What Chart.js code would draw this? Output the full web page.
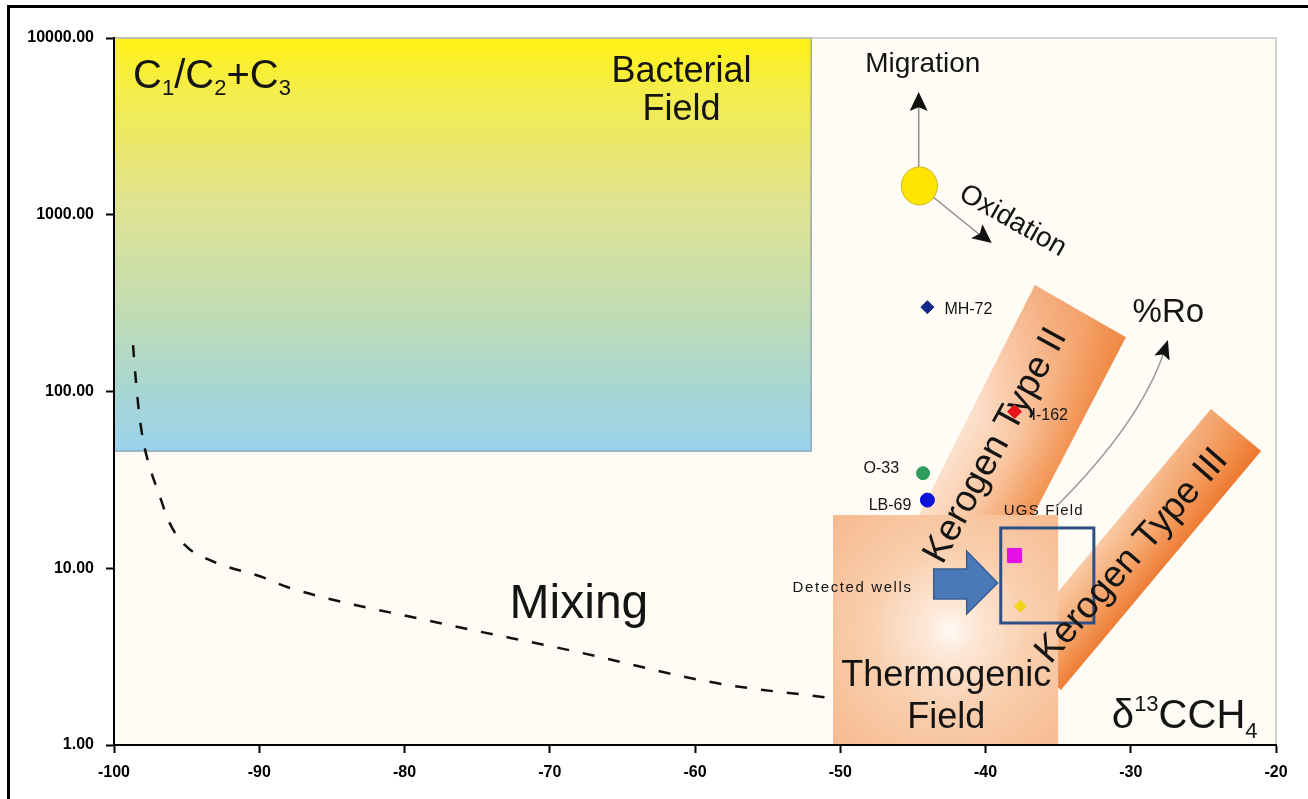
<!DOCTYPE html>
<html>
<head>
<meta charset="utf-8">
<title>Bernard diagram</title>
<script src="https://cdn.jsdelivr.net/npm/chart.js@4.4.1/dist/chart.umd.min.js"></script>
<style>
  html, body { margin: 0; padding: 0; background: #fff; overflow: hidden; }
  #wrap { position: relative; width: 1308px; height: 799px; }
  #frame { position: absolute; left: 7px; top: 5px; width: 1320px; height: 820px;
           border-top: 3px solid #000; border-left: 3px solid #000; pointer-events: none; }
  canvas { display: block; }
</style>
</head>
<body>
<div id="wrap">
  <canvas id="chart" width="1308" height="799"></canvas>
  <div id="frame"></div>
</div>
<script>
// δ13C of methane (‰) against C1/(C2+C3), log scale

const yTickValues = [1, 10, 100, 1000, 10000];

// labelled wells
const wellNames = ['MH-72', 'I-162', 'O-33', 'LB-69'];
const wellD13C = [-44, -38, -44.3, -44];
const wellRatio = [300, 77, 34.5, 24.3];

// detected wells in the UGS field
const detectedD13C = [-38, -37.6];
const detectedRatio = [11.8, 6.1];

// mixing trend between bacterial and thermogenic end members
const mixingD13C = [-98.69, -98.48, -98.28, -98.0, -97.52, -96.9, -96.21, -95.11, -93.39, -89.6, -88.08, -78.23, -68.37, -58.52, -50.53];
const mixingRatio = [183, 112, 76.6, 53.2, 36.9, 26.3, 18.3, 13.5, 11.1, 8.8, 7.83, 5.03, 3.4, 2.24, 1.84];

// genetic fields
const bacterialD13C = [-100, -52];
const bacterialRatio = [46, 10000];
const thermogenicD13C = [-50.5, -35];
const thermogenicRatio = [1, 20];

// kerogen maturity bands, corners: lower-left, upper-left, upper-right, lower-right
const kerogenIID13C = [-46.46, -36.6, -30.34, -40.47];
const kerogenIIRatio = [9.9, 400, 203, 5.1];
const kerogenIIID13C = [-38.26, -24.48, -21.03, -34.81];
const kerogenIIIRatio = [3.54, 79.6, 46.1, 2.05];

// UGS field window
const ugsD13C = [-38.95, -32.54];
const ugsRatio = [4.9, 16.9];

// source point of the migration / oxidation vectors and their ends
const sourceD13C = [-44.55];
const sourceRatio = [1455];
const migrationEnd = { x: -44.6, y: 4950 };
const oxidationEnd = { x: -39.57, y: 692 };
// maturity (%Ro) trend: start, bend, end
const roD13C = [-35.16, -29.3, -27.44];
const roRatio = [22.2, 67.2, 195.6];

// drawing styles
const wellStyle = {
  pointStyle: ['rectRot', 'rectRot', 'circle', 'circle'],
  color: ['#14288c', '#e8141c', '#2e9b5c', '#0a12d8'],
  radius: [6.5, 7, 6.5, 7],
  labelDx: [17, 17, -24, -16],
  labelDy: [7, 8, 0, 10],
  labelAlign: ['left', 'left', 'right', 'right']
};
const detectedStyle = {
  pointStyle: ['rect', 'rectRot'],
  color: ['#e60fe6', '#f2d21a'],
  radius: [10, 6]
};

const FONT = '"Liberation Sans", Arial, sans-serif';

function toPx(chart, x, y) {
  return [chart.scales.x.getPixelForValue(x), chart.scales.y.getPixelForValue(y)];
}

function polygon(ctx, pts) {
  ctx.beginPath();
  ctx.moveTo(pts[0][0], pts[0][1]);
  for (let i = 1; i < pts.length; i++) ctx.lineTo(pts[i][0], pts[i][1]);
  ctx.closePath();
}

function arrowHead(ctx, fx, fy, tx, ty, len, half, color) {
  const a = Math.atan2(ty - fy, tx - fx);
  ctx.save();
  ctx.translate(tx, ty);
  ctx.rotate(a);
  ctx.beginPath();
  ctx.moveTo(0, 0);
  ctx.lineTo(-len, -half);
  ctx.lineTo(-len * 0.8, 0);
  ctx.lineTo(-len, half);
  ctx.closePath();
  ctx.fillStyle = color;
  ctx.fill();
  ctx.restore();
}

function band(ctx, chart, xs, ys, across, along) {
  const pts = xs.map((x, i) => toPx(chart, x, ys[i]));
  const [bl, tl, tr, br] = pts;
  const mid = (p, q) => [(p[0] + q[0]) / 2, (p[1] + q[1]) / 2];
  const lm = mid(bl, tl), rm = mid(br, tr), bm = mid(bl, br), tm = mid(tl, tr);
  polygon(ctx, pts);
  const g1 = ctx.createLinearGradient(lm[0], lm[1], rm[0], rm[1]);
  across.forEach(([s, c]) => g1.addColorStop(s, c));
  ctx.fillStyle = g1;
  ctx.fill();
  const g2 = ctx.createLinearGradient(bm[0], bm[1], tm[0], tm[1]);
  along.forEach(([s, c]) => g2.addColorStop(s, c));
  ctx.fillStyle = g2;
  ctx.fill();
}

function runs(ctx, x, y, parts) {
  // parts: [text, size, dy]
  let cx = x;
  parts.forEach(([t, size, dy]) => {
    ctx.font = size + 'px ' + FONT;
    ctx.fillText(t, cx, y + dy);
    cx += ctx.measureText(t).width;
  });
}

const fieldsPlugin = {
  id: 'fields',
  beforeDraw(chart) {
    const ctx = chart.ctx;
    const a = chart.chartArea;
    ctx.save();
    ctx.fillStyle = '#fefcf5';
    ctx.fillRect(a.left, a.top, a.right - a.left, a.bottom - a.top);

    // bacterial field
    const [bx0, by0] = toPx(chart, bacterialD13C[0], bacterialRatio[1]);
    const [bx1, by1] = toPx(chart, bacterialD13C[1], bacterialRatio[0]);
    const gb = ctx.createLinearGradient(0, by0, 0, by1);
    gb.addColorStop(0, '#fff212');
    gb.addColorStop(0.12, '#f5ed48');
    gb.addColorStop(0.4, '#e0e391');
    gb.addColorStop(0.65, '#c3ddb2');
    gb.addColorStop(0.85, '#a8d6d2');
    gb.addColorStop(1, '#9bd3ee');
    ctx.fillStyle = gb;
    ctx.fillRect(bx0, by0, bx1 - bx0, by1 - by0);
    ctx.strokeStyle = 'rgba(120,140,165,0.7)';
    ctx.lineWidth = 1.5;
    ctx.strokeRect(bx0, by0, bx1 - bx0, by1 - by0);

    // kerogen bands
    band(ctx, chart, kerogenIID13C, kerogenIIRatio,
      [[0, '#fde2cf'], [0.5, '#f9c7a2'], [1, '#f29352']],
      [[0, 'rgba(238,115,35,0)'], [0.55, 'rgba(238,115,35,0)'], [1, 'rgba(236,110,30,0.45)']]);
    band(ctx, chart, kerogenIIID13C, kerogenIIIRatio,
      [[0, '#f9caa6'], [0.5, '#f5aa72'], [1, '#ee7d35']],
      [[0, 'rgba(238,115,35,0)'], [0.5, 'rgba(238,115,35,0)'], [1, 'rgba(236,110,30,0.35)']]);

    // thermogenic field
    const [tx0, ty0] = toPx(chart, thermogenicD13C[0], thermogenicRatio[1]);
    const [tx1, ty1] = toPx(chart, thermogenicD13C[1], thermogenicRatio[0]);
    const cx = tx0 + 0.52 * (tx1 - tx0), cy = ty0 + 0.5 * (ty1 - ty0);
    const gt = ctx.createRadialGradient(cx, cy, 0, cx, cy, 200);
    gt.addColorStop(0, '#fffaf4');
    gt.addColorStop(0.12, '#fde8d8');
    gt.addColorStop(0.4, '#f9cfae');
    gt.addColorStop(0.75, '#f7bd94');
    gt.addColorStop(1, '#f5b285');
    ctx.fillStyle = gt;
    ctx.fillRect(tx0, ty0, tx1 - tx0, ty1 - ty0);

    // plot frame
    ctx.strokeStyle = '#c2c2c2';
    ctx.lineWidth = 1.5;
    ctx.beginPath();
    ctx.moveTo(a.left, a.top);
    ctx.lineTo(a.right, a.top);
    ctx.lineTo(a.right, a.bottom);
    ctx.stroke();
    ctx.restore();
  },
  beforeDatasetsDraw(chart) {
    const ctx = chart.ctx;
    ctx.save();
    ctx.fillStyle = '#141414';
    ctx.textBaseline = 'alphabetic';

    // UGS window
    const [ux0, uy0] = toPx(chart, ugsD13C[0], ugsRatio[1]);
    const [ux1, uy1] = toPx(chart, ugsD13C[1], ugsRatio[0]);
    ctx.strokeStyle = '#2e4f86';
    ctx.lineWidth = 3;
    ctx.strokeRect(ux0, uy0, ux1 - ux0, uy1 - uy0);

    // block arrow pointing at the UGS window
    const [ax, ay] = toPx(chart, -39.16, 8.25);
    polygon(ctx, [[ax, ay], [ax - 31, ay - 32], [ax - 31, ay - 14], [ax - 64, ay - 14],
                  [ax - 64, ay + 16], [ax - 31, ay + 16], [ax - 31, ay + 31]]);
    ctx.fillStyle = '#4a78b8';
    ctx.fill();
    ctx.strokeStyle = '#3a5d92';
    ctx.lineWidth = 1.5;
    ctx.stroke();

    // kerogen band names
    ctx.fillStyle = '#141414';
    ctx.textAlign = 'center';
    ctx.textBaseline = 'middle';
    ctx.font = '37px ' + FONT;
    let [kx, ky] = toPx(chart, -39.29, 49.2);
    ctx.save(); ctx.translate(kx, ky); ctx.rotate(-61.5 * Math.PI / 180);
    ctx.fillText('Kerogen Type II', 0, 0); ctx.restore();
    [kx, ky] = toPx(chart, -29.92, 11.7);
    ctx.save(); ctx.translate(kx, ky); ctx.rotate(-48.8 * Math.PI / 180);
    ctx.fillText('Kerogen Type III', 0, 0); ctx.restore();

    // migration / oxidation vectors
    const [sx, sy] = toPx(chart, sourceD13C[0], sourceRatio[0]);
    const [mx, my] = toPx(chart, migrationEnd.x, migrationEnd.y);
    const [ox, oy] = toPx(chart, oxidationEnd.x, oxidationEnd.y);
    ctx.strokeStyle = '#8c8c8c';
    ctx.lineWidth = 1.5;
    ctx.beginPath();
    ctx.moveTo(mx, sy); ctx.lineTo(mx, my + 12);
    ctx.moveTo(sx, sy); ctx.lineTo(ox - 8, oy - 5);
    ctx.stroke();
    arrowHead(ctx, mx, sy, mx, my, 19, 9, '#111');
    arrowHead(ctx, sx, sy, ox, oy, 19, 9, '#111');
    ctx.beginPath();
    ctx.ellipse(sx, sy, 18, 19, 0, 0, Math.PI * 2);
    ctx.fillStyle = '#ffe600';
    ctx.fill();
    ctx.strokeStyle = '#c9b818';
    ctx.lineWidth = 1;
    ctx.stroke();

    // %Ro trend
    const ro = roD13C.map((x, i) => toPx(chart, x, roRatio[i]));
    ctx.strokeStyle = '#9a9a9a';
    ctx.lineWidth = 1.5;
    ctx.beginPath();
    ctx.moveTo(ro[0][0], ro[0][1]);
    const endX = ro[2][0] - 0.09 * (ro[2][0] - ro[1][0]) * 1.5;
    const endY = ro[2][1] - 0.09 * (ro[2][1] - ro[1][1]) * 1.5;
    ctx.quadraticCurveTo(ro[1][0], ro[1][1], endX, endY);
    ctx.stroke();
    arrowHead(ctx, ro[1][0], ro[1][1], ro[2][0], ro[2][1], 19, 8, '#111');
    ctx.restore();
  },
  afterDatasetsDraw(chart) {
    const ctx = chart.ctx;
    ctx.save();
    ctx.fillStyle = '#141414';
    ctx.textBaseline = 'alphabetic';
    ctx.textAlign = 'left';

    // C1/C2+C3
    let [x, y] = toPx(chart, -98.69, 5212);
    runs(ctx, x, y, [['C', 40, 0], ['1', 22, 7], ['/', 40, 0], ['C', 40, 0], ['2', 22, 7],
                     ['+', 40, 0], ['C', 40, 0], ['3', 22, 7]]);

    // δ13CCH4
    [x, y] = toPx(chart, -31.3, 1.248);
    runs(ctx, x, y, [['δ', 40, 0], ['13', 22, -17], ['CCH', 40, 0], ['4', 22, 10]]);

    ctx.textAlign = 'center';
    ctx.font = '36px ' + FONT;
    [x, y] = toPx(chart, -60.93, 5640);
    ctx.fillText('Bacterial', x, y);
    [x, y] = toPx(chart, -60.93, 3436);
    ctx.fillText('Field', x, y);

    [x, y] = toPx(chart, -42.7, 2.16);
    ctx.fillText('Thermogenic', x, y);
    [x, y] = toPx(chart, -42.7, 1.248);
    ctx.fillText('Field', x, y);

    ctx.font = '48px ' + FONT;
    [x, y] = toPx(chart, -67.99, 5.23);
    ctx.fillText('Mixing', x, y);

    ctx.font = '28px ' + FONT;
    [x, y] = toPx(chart, -44.32, 6424);
    ctx.fillText('Migration', x, y);

    ctx.font = '33px ' + FONT;
    [x, y] = toPx(chart, -27.41, 247);
    ctx.fillText('%Ro', x, y);

    ctx.font = '28px ' + FONT;
    ctx.textBaseline = 'middle';
    [x, y] = toPx(chart, -38.12, 922);
    ctx.save(); ctx.translate(x, y); ctx.rotate(29.7 * Math.PI / 180);
    ctx.fillText('Oxidation', 0, 0); ctx.restore();

    // small annotation labels
    ctx.textBaseline = 'alphabetic';
    ctx.textAlign = 'left';
    ctx.font = '15px ' + FONT;
    if ('letterSpacing' in ctx) ctx.letterSpacing = '1.2px';
    [x, y] = toPx(chart, -38.74, 20.0);
    ctx.fillText('UGS Field', x, y);
    if ('letterSpacing' in ctx) ctx.letterSpacing = '1.6px';
    [x, y] = toPx(chart, -53.28, 7.34);
    ctx.fillText('Detected wells', x, y);
    if ('letterSpacing' in ctx) ctx.letterSpacing = '0px';

    // well names
    ctx.font = '16px ' + FONT;
    wellNames.forEach((n, i) => {
      const [px, py] = toPx(chart, wellD13C[i], wellRatio[i]);
      ctx.textAlign = wellStyle.labelAlign[i];
      ctx.fillText(n, px + wellStyle.labelDx[i], py + wellStyle.labelDy[i]);
    });
    ctx.restore();
  }
};

const tickFont = { family: FONT, size: 16, weight: 'bold' };

new Chart(document.getElementById('chart'), {
  type: 'scatter',
  data: {
    datasets: [
      {
        label: 'Wells',
        data: wellD13C.map((x, i) => ({ x, y: wellRatio[i] })),
        pointStyle: wellStyle.pointStyle,
        backgroundColor: wellStyle.color,
        borderColor: wellStyle.color,
        borderWidth: 1,
        pointRadius: wellStyle.radius
      },
      {
        label: 'Detected wells',
        data: detectedD13C.map((x, i) => ({ x, y: detectedRatio[i] })),
        pointStyle: detectedStyle.pointStyle,
        backgroundColor: detectedStyle.color,
        borderColor: detectedStyle.color,
        borderWidth: 1,
        pointRadius: detectedStyle.radius
      },
      {
        label: 'Mixing',
        data: mixingD13C.map((x, i) => ({ x, y: mixingRatio[i] })),
        showLine: true,
        pointRadius: 0,
        borderColor: '#111',
        borderWidth: 2.5,
        borderDash: [12, 14],
        cubicInterpolationMode: 'monotone',
        fill: false
      }
    ]
  },
  options: {
    responsive: false,
    animation: false,
    events: [],
    layout: { padding: { left: 20, right: 32, top: 38, bottom: 10 } },
    plugins: { legend: { display: false }, tooltip: { enabled: false } },
    scales: {
      x: {
        type: 'linear',
        min: -100,
        max: -20,
        ticks: { stepSize: 10, color: '#000', font: tickFont, padding: 10, maxRotation: 0 },
        grid: { drawOnChartArea: false, color: '#000', tickLength: 8, tickWidth: 2 },
        border: { color: '#000', width: 2 },
        afterFit(s) { s.height = 44; }
      },
      y: {
        type: 'logarithmic',
        min: 1,
        max: 10000,
        afterBuildTicks(s) { s.ticks = yTickValues.map(v => ({ value: v, major: true })); },
        ticks: { color: '#000', font: tickFont, padding: 12, callback: v => Number(v).toFixed(2) },
        grid: { drawOnChartArea: false, color: '#000', tickLength: 8, tickWidth: 2 },
        border: { color: '#000', width: 2 },
        afterFit(s) { s.width = 94; }
      }
    }
  },
  plugins: [fieldsPlugin]
});
</script>
</body>
</html>
